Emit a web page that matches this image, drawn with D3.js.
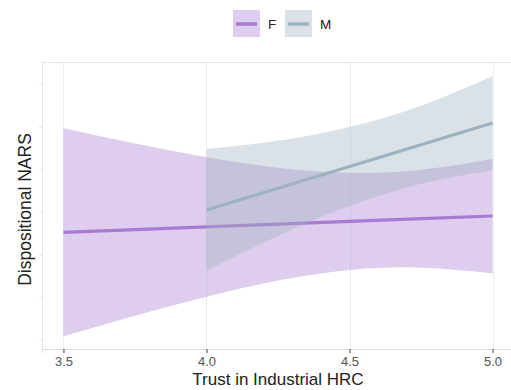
<!DOCTYPE html>
<html>
<head>
<meta charset="utf-8">
<script src="https://cdn.jsdelivr.net/npm/d3@7"></script>
<style>
  html, body { margin: 0; padding: 0; background: #ffffff; }
  svg { display: block; font-family: "Liberation Sans", Arial, sans-serif; }
</style>
</head>
<body>
<svg id="chart" width="511" height="390"></svg>
<script>
// Fitted NARS by trust, with 95% confidence bands, per gender group
const groups = ["F", "M"];
const groupColors = ["#a77bd1", "#9db2bf"];

const xF = [3.5, 3.75, 4.0, 4.25, 4.5, 4.75, 5.0];
const fitF = [2.762, 2.794, 2.825, 2.858, 2.890, 2.922, 2.953];
const upperF = [3.981, 3.803, 3.643, 3.520, 3.459, 3.495, 3.625];
const lowerF = [1.543, 1.785, 2.007, 2.196, 2.320, 2.348, 2.282];

const xM = [4.0, 4.25, 4.5, 4.75, 5.0];
const fitM = [3.024, 3.278, 3.533, 3.788, 4.043];
const upperM = [3.738, 3.834, 3.996, 4.245, 4.594];
const lowerM = [2.309, 2.721, 3.070, 3.331, 3.486];

const xTicks = [3.5, 4.0, 4.5, 5.0];
const yTicks = [1.5, 2.0, 2.5, 3.0, 3.5, 4.0, 4.5];

const xTitle = "Trust in Industrial HRC";
const yTitle = "Dispositional NARS";

const svg = d3.select("#chart");
const panel = { left: 42, top: 62, right: 514, bottom: 349 };

const x = d3.scaleLinear().domain([3.425, 5.075]).range([panel.left, panel.right]);
const y = d3.scaleLinear().domain([1.3945, 4.7578]).range([panel.bottom, panel.top]);

const series = [
  { name: groups[0], color: groupColors[0], fill: "#dccbea",
    pts: xF.map((v, i) => ({ x: v, fit: fitF[i], lo: lowerF[i], hi: upperF[i] })) },
  { name: groups[1], color: groupColors[1], fill: "#d5dde4",
    pts: xM.map((v, i) => ({ x: v, fit: fitM[i], lo: lowerM[i], hi: upperM[i] })) }
];

const clip = svg.append("clipPath").attr("id", "panel-clip")
  .append("rect")
  .attr("x", panel.left).attr("y", panel.top)
  .attr("width", panel.right - panel.left).attr("height", panel.bottom - panel.top);

// panel border
svg.append("rect")
  .attr("x", panel.left + 0.5).attr("y", panel.top + 0.5)
  .attr("width", panel.right - panel.left).attr("height", panel.bottom - panel.top)
  .attr("fill", "#ffffff").attr("stroke", "#e3e6e8").attr("stroke-width", 1);

// vertical grid
svg.append("g").selectAll("line").data(xTicks).join("line")
  .attr("x1", d => Math.round(x(d)) + 0.5).attr("x2", d => Math.round(x(d)) + 0.5)
  .attr("y1", panel.top).attr("y2", panel.bottom)
  .attr("stroke", "#ebedee").attr("stroke-width", 1);

const plot = svg.append("g").attr("clip-path", "url(#panel-clip)");

const band = d3.area()
  .x(d => x(d.x)).y0(d => y(d.lo)).y1(d => y(d.hi))
  .curve(d3.curveNatural);
const fitLine = d3.line()
  .x(d => x(d.x)).y(d => y(d.fit));

series.forEach(s => {
  plot.append("path").datum(s.pts)
    .attr("d", band)
    .attr("fill", s.color).attr("fill-opacity", 0.38);
  plot.append("path").datum(s.pts)
    .attr("d", fitLine)
    .attr("fill", "none").attr("stroke", s.color)
    .attr("stroke-width", 3.2);
});

// bottom axis
const xAxis = d3.axisBottom(x).tickValues(xTicks).tickFormat(d3.format(".1f"))
  .tickSize(4).tickPadding(4);
const gx = svg.append("g").attr("transform", `translate(0,${panel.bottom})`).call(xAxis);
gx.select(".domain").attr("stroke", "#d6e0e0").attr("stroke-width", 1.2);
gx.selectAll(".tick line").attr("stroke", "#444444").attr("stroke-width", 1);
gx.selectAll(".tick text").attr("fill", "#555555")
  .style("font-size", "13px").style("font-family", "'Liberation Sans', Arial, sans-serif");

// left axis: faint ticks, no labels
const yAxis = d3.axisLeft(y).tickValues(yTicks).tickFormat("").tickSize(3);
const gy = svg.append("g").attr("transform", `translate(${panel.left},0)`).call(yAxis);
gy.select(".domain").remove();
gy.selectAll(".tick line").attr("stroke", "#dfe3e5");

// axis titles
svg.append("text")
  .attr("x", (panel.left + panel.right) / 2).attr("y", 385)
  .attr("text-anchor", "middle").attr("fill", "#222222")
  .style("font-size", "17px")
  .text(xTitle);

svg.append("text")
  .attr("transform", `translate(31,${(panel.top + panel.bottom) / 2 + 4}) rotate(-90)`)
  .attr("text-anchor", "middle").attr("fill", "#222222")
  .style("font-size", "17.5px")
  .text(yTitle);

// legend
const legend = svg.append("g");
const keyX = [233, 285];
series.forEach((s, i) => {
  const g = legend.append("g").attr("transform", `translate(${keyX[i]},10)`);
  g.append("rect").attr("width", 27).attr("height", 27)
    .attr("fill", s.color).attr("fill-opacity", 0.38);
  g.append("line").attr("x1", 3).attr("x2", 24).attr("y1", 14).attr("y2", 14)
    .attr("stroke", s.color).attr("stroke-width", 3.5);
  g.append("text").attr("x", 35).attr("y", 19)
    .attr("fill", "#222222").style("font-size", "13.5px")
    .text(s.name);
});
</script>
</body>
</html>
